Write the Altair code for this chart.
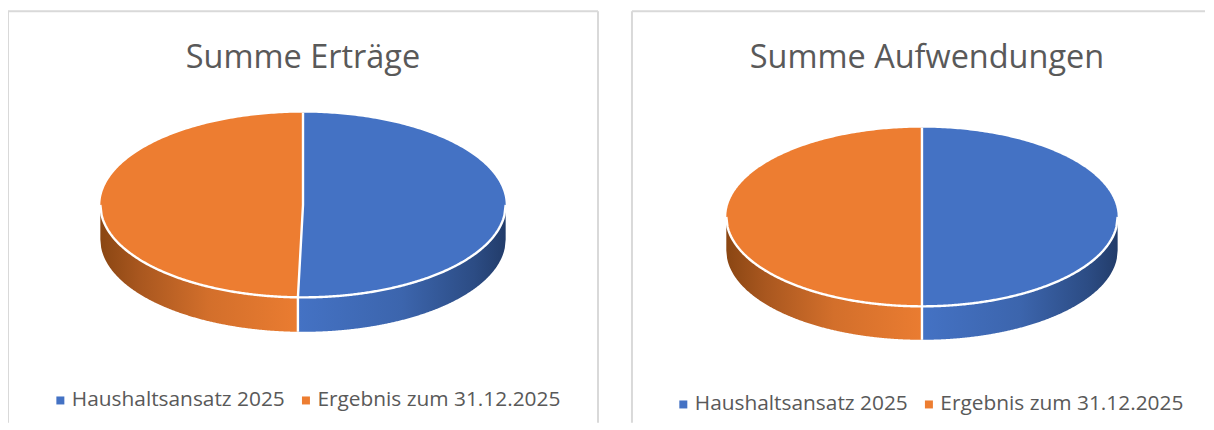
import numpy as np
import pandas as pd
import altair as alt

SERIES = ["Haushaltsansatz 2025", "Ergebnis zum 31.12.2025"]
COLORS = ["#4472C4", "#ED7D31"]
TITLES = ["Summe Erträge", "Summe Aufwendungen"]
SHARE_BUDGET = [50.4, 50.0]
SHARE_RESULT = [49.6, 50.0]

FONT = "Open Sans"
TEXT = "#595959"
FRAME = "#D9D9D9"
PANEL_H = 412


def gradient(stops):
    return alt.Gradient(
        gradient="linear", x1=0, x2=1, y1=0, y2=0,
        stops=[alt.GradientStop(color=c, offset=o) for o, c in stops],
    )


def panel(title, budget, result, w, cx, cy, a, b, depth, legend_x, legend_y, right_edge, title_dx):
    total = budget + result
    xb = a * np.sin(2 * np.pi * budget / total)
    xs = alt.Scale(domain=[0, w])
    ys = alt.Scale(domain=[PANEL_H, 0])
    X = alt.X("x:Q", scale=xs, axis=None)
    Y = alt.Y("y:Q", scale=ys, axis=None)

    # top face: one sector per series
    t = np.linspace(-np.pi / 2, np.pi / 2, 241)
    dy = b * np.sin(t)
    half = a * np.cos(t)
    div = np.where(dy > 0, xb * dy / b, 0.0)
    top = pd.concat([
        pd.DataFrame({"series": SERIES[0], "y": cy + dy, "x": cx + div, "x2": cx + np.maximum(half, div)}),
        pd.DataFrame({"series": SERIES[1], "y": cy + dy, "x": cx + div, "x2": cx + np.minimum(-half, div)}),
    ])
    sectors = alt.Chart(top).mark_area(orient="horizontal").encode(
        y=Y,
        x=X,
        x2="x2:Q",
        color=alt.Color(
            "series:N",
            scale=alt.Scale(domain=SERIES, range=COLORS),
            sort=SERIES,
            legend=alt.Legend(
                title=None, orient="none", legendX=legend_x, legendY=legend_y,
                direction="horizontal", columns=2, symbolType="square", symbolSize=64,
                symbolStrokeWidth=0, labelFont=FONT, labelFontSize=20.9, labelColor=TEXT,
                columnPadding=10, symbolOffset=0, labelOffset=1, labelLimit=400,
            ),
        ),
    )

    # side of the disc
    def rim(x0, x1):
        xx = np.linspace(x0, x1, 241)
        low = b * np.sqrt(np.clip(1 - (xx / a) ** 2, 0, 1))
        return pd.DataFrame({"x": cx + xx, "y": cy + low, "y2": cy + low + depth})

    rim_result = alt.Chart(rim(-a, xb)).mark_area(
        fill=gradient([(0, "#8A4613"), (0.2, "#A9571F"), (0.55, "#D36F2B"), (1, "#EA7C31")])
    ).encode(x=X, y=Y, y2="y2:Q")
    rim_budget = alt.Chart(rim(xb, a)).mark_area(
        fill=gradient([(0, "#4472C4"), (0.5, "#3C65AD"), (0.85, "#2C4C84"), (1, "#223C6A")])
    ).encode(x=X, y=Y, y2="y2:Q")

    # white separators
    xx = np.linspace(-a, a, 321)
    edge = pd.DataFrame({
        "x": cx + xx,
        "y": cy + b * np.sqrt(np.clip(1 - (xx / a) ** 2, 0, 1)),
        "part": "edge",
    })
    edge["o"] = range(len(edge))
    divider = pd.DataFrame({
        "x": [cx, cx, cx + xb, cx + xb],
        "y": [cy - b, cy, cy + b, cy + b + depth],
        "part": "divider",
        "o": range(4),
    })
    seps = alt.Chart(pd.concat([edge, divider])).mark_line(
        color="white", strokeWidth=2.4
    ).encode(x=X, y=Y, detail="part:N", order="o:Q")

    # panel frame: open at the bottom, as in the cropped reference
    rule = alt.Chart().mark_rule(color=FRAME, strokeWidth=2)
    frame = [
        rule.encode(x=alt.value(0), y=alt.value(0), y2=alt.value(PANEL_H)),
        rule.encode(x=alt.value(0), x2=alt.value(w), y=alt.value(0)),
    ]
    if right_edge:
        frame.append(rule.encode(x=alt.value(w), y=alt.value(0), y2=alt.value(PANEL_H)))

    return alt.layer(*frame, rim_result, rim_budget, sectors, seps).properties(
        width=w, height=PANEL_H,
        title=alt.TitleParams(
            title, font=FONT, fontSize=32.5, fontWeight="normal", color=TEXT,
            anchor="middle", offset=-90, baseline="alphabetic", dx=title_dx,
        ),
    )


left = panel(TITLES[0], SHARE_BUDGET[0], SHARE_RESULT[0], 591, 295.5, 194, 203, 92.5, 34.5, 42, 379, True, 0)
right = panel(TITLES[1], SHARE_BUDGET[1], SHARE_RESULT[1], 574, 290.5, 206, 196, 89.5, 33.5, 41, 383, False, 8.5)

chart = (
    alt.hconcat(left, right, spacing=32)
    .resolve_legend(color="independent")
    .resolve_scale(color="independent")
    .properties(padding={"left": -1, "top": 2, "right": 0, "bottom": 0}, background="white")
    .configure_view(stroke=None)
)

chart.save("out.html", embed_options={"renderer": "svg", "actions": False})
